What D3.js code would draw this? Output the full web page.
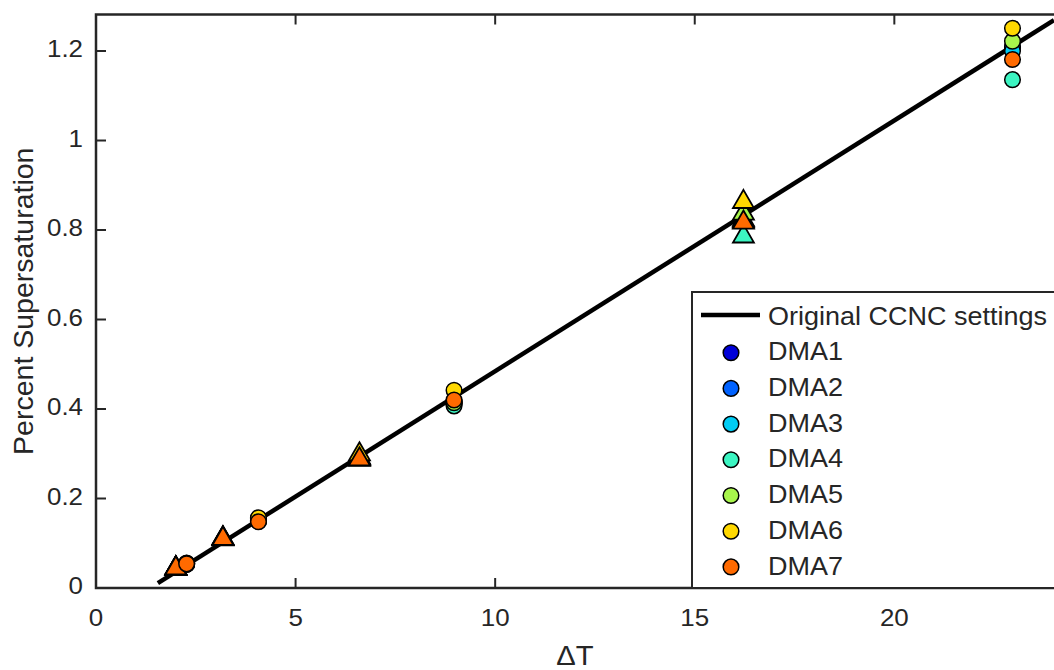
<!DOCTYPE html>
<html>
<head>
<meta charset="utf-8">
<script src="https://cdn.jsdelivr.net/npm/d3@7"></script>
<style>
	body { margin: 0; background: #fff; }
	text { font-family: Arial, 'Liberation Sans', sans-serif; fill: #262626; }
</style>
</head>
<body>
<div id="chart"></div>
<script>
/***********************************************************************/
//Data
/***********************************************************************/
const seriesNames = ['DMA1', 'DMA2', 'DMA3', 'DMA4', 'DMA5', 'DMA6', 'DMA7']
const seriesColors = ['#0000d8', '#0062ff', '#00ccf4', '#3cf5c2', '#a8f54c', '#ffd800', '#ff6a00']

// circles: dT values, triangles: dT values
const circleDT = [2.27, 4.07, 8.97, 22.96]
const triangleDT = [2.0, 3.18, 6.6, 16.22]

const circleSS = [
	[0.053, 0.149, 0.415, 1.208],
	[0.053, 0.150, 0.416, 1.210],
	[0.054, 0.151, 0.412, 1.200],
	[0.054, 0.155, 0.407, 1.136],
	[0.055, 0.154, 0.414, 1.222],
	[0.056, 0.157, 0.442, 1.251],
	[0.054, 0.148, 0.420, 1.181]
]

const triangleSS = [
	[0.047, 0.113, 0.293, 0.826],
	[0.047, 0.113, 0.293, 0.824],
	[0.047, 0.113, 0.292, 0.822],
	[0.046, 0.112, 0.290, 0.789],
	[0.047, 0.114, 0.295, 0.840],
	[0.048, 0.115, 0.302, 0.866],
	[0.047, 0.113, 0.291, 0.820]
]

// original CCNC settings line
const ccncDT = [1.55, 24]
const ccncSS = [0.011, 1.269]

const xTickValues = [0, 5, 10, 15, 20]
const yTickValues = [0, 0.2, 0.4, 0.6, 0.8, 1, 1.2]

/***********************************************************************/
//Plot Area
/***********************************************************************/
const width = 1054
const height = 670
const margin = { left : 96, right : 0, top : 14.5, bottom : 82 }
const axisColor = '#262626'
const stretch = 1.08

const svg = d3.select('#chart')
	.append('svg')
	.attr('width', width)
	.attr('height', height)

const xScale = d3.scaleLinear()
	.domain([0, 24])
	.range([margin.left, width - margin.right])

const yScale = d3.scaleLinear()
	.domain([0, 1.2816])
	.range([height - margin.bottom, margin.top])

const x0 = xScale.range()[0], x1 = xScale.range()[1]
const y0 = yScale.range()[0], y1 = yScale.range()[1]

svg.append('defs').append('clipPath')
	.attr('id', 'plot-clip')
	.append('rect')
	.attr('x', x0).attr('y', y1)
	.attr('width', x1 - x0).attr('height', y0 - y1)

// horizontal text, slightly widened like the original render
function addText(g, x, y, str, size, anchor) {
	return g.append('text')
		.attr('transform', `translate(${x},${y}) scale(${stretch},1)`)
		.attr('text-anchor', anchor || 'start')
		.attr('dominant-baseline', 'middle')
		.style('font-size', size + 'px')
		.text(str)
}

/***********************************************************************/
//Axes
/***********************************************************************/
const gAxes = svg.append('g').attr('class', 'axes')
const tickLen = 10

xTickValues.forEach(v => {
	gAxes.append('line')
		.attr('x1', xScale(v)).attr('x2', xScale(v))
		.attr('y1', y0).attr('y2', y0 - tickLen)
		.attr('stroke', axisColor).attr('stroke-width', 2)
	gAxes.append('line')
		.attr('x1', xScale(v)).attr('x2', xScale(v))
		.attr('y1', y1).attr('y2', y1 + tickLen)
		.attr('stroke', axisColor).attr('stroke-width', 2)
	addText(gAxes, xScale(v), y0 + 32, v, 24, 'middle')
})

yTickValues.forEach(v => {
	gAxes.append('line')
		.attr('x1', x0).attr('x2', x0 + tickLen)
		.attr('y1', yScale(v)).attr('y2', yScale(v))
		.attr('stroke', axisColor).attr('stroke-width', 2)
	addText(gAxes, x0 - 13, yScale(v), d3.format('~g')(v), 24, 'end')
})

gAxes.append('path')
	.attr('d', `M${x1},${y1}H${x0}V${y0}H${x1}`)
	.attr('fill', 'none')
	.attr('stroke', axisColor)
	.attr('stroke-width', 2.5)

addText(gAxes, 575, height - 12, '\u0394T', 27, 'middle')

gAxes.append('text')
	.attr('transform', `translate(25, ${(y0 + y1) / 2}) rotate(-90)`)
	.attr('text-anchor', 'middle')
	.attr('dominant-baseline', 'middle')
	.style('font-size', '28.5px')
	.text('Percent Supersaturation')

/***********************************************************************/
//Plotting
/***********************************************************************/
const gChart = svg.append('g').attr('clip-path', 'url(#plot-clip)')

const line = d3.line()
	.x(d => xScale(d[0]))
	.y(d => yScale(d[1]))

gChart.append('path')
	.datum(d3.zip(ccncDT, ccncSS))
	.attr('fill', 'none')
	.attr('stroke', '#000')
	.attr('stroke-width', 4.5)
	.attr('d', line)

const triangle = d3.symbol().type(d3.symbolTriangle).size(190)

seriesNames.forEach((name, i) => {
	const gSeries = gChart.append('g').attr('class', 'series-' + name)

	gSeries.selectAll('.tri')
		.data(d3.zip(triangleDT, triangleSS[i]))
		.join('path')
		.attr('class', 'tri')
		.attr('transform', d => `translate(${xScale(d[0])},${yScale(d[1]) + 1.5})`)
		.attr('d', triangle)
		.attr('fill', seriesColors[i])
		.attr('stroke', '#000')
		.attr('stroke-width', 1.8)

	gSeries.selectAll('.circ')
		.data(d3.zip(circleDT, circleSS[i]))
		.join('circle')
		.attr('class', 'circ')
		.attr('cx', d => xScale(d[0]))
		.attr('cy', d => yScale(d[1]))
		.attr('r', 7.8)
		.attr('fill', seriesColors[i])
		.attr('stroke', '#000')
		.attr('stroke-width', 1.5)
})

/***********************************************************************/
//Legend
/***********************************************************************/
const legendTop = 292
const legendLeft = 692
const rowH = 35.7

const gLegend = svg.append('g').attr('class', 'legend')

gLegend.append('rect')
	.attr('x', legendLeft)
	.attr('y', legendTop)
	.attr('width', width - legendLeft + 10)
	.attr('height', y0 - legendTop)
	.attr('fill', '#fff')
	.attr('stroke', axisColor)
	.attr('stroke-width', 2)

gLegend.append('line')
	.attr('x1', 701).attr('x2', 760)
	.attr('y1', legendTop + 23).attr('y2', legendTop + 23)
	.attr('stroke', '#000')
	.attr('stroke-width', 4.5)

addText(gLegend, 768, legendTop + 26, 'Original CCNC settings', 25)

seriesNames.forEach((name, i) => {
	const cy = legendTop + 25 + rowH * (i + 1)
	gLegend.append('circle')
		.attr('cx', 731)
		.attr('cy', cy)
		.attr('r', 7.8)
		.attr('fill', seriesColors[i])
		.attr('stroke', '#000')
		.attr('stroke-width', 1.5)
	addText(gLegend, 768, cy + 1, name, 25)
})
</script>
</body>
</html>
